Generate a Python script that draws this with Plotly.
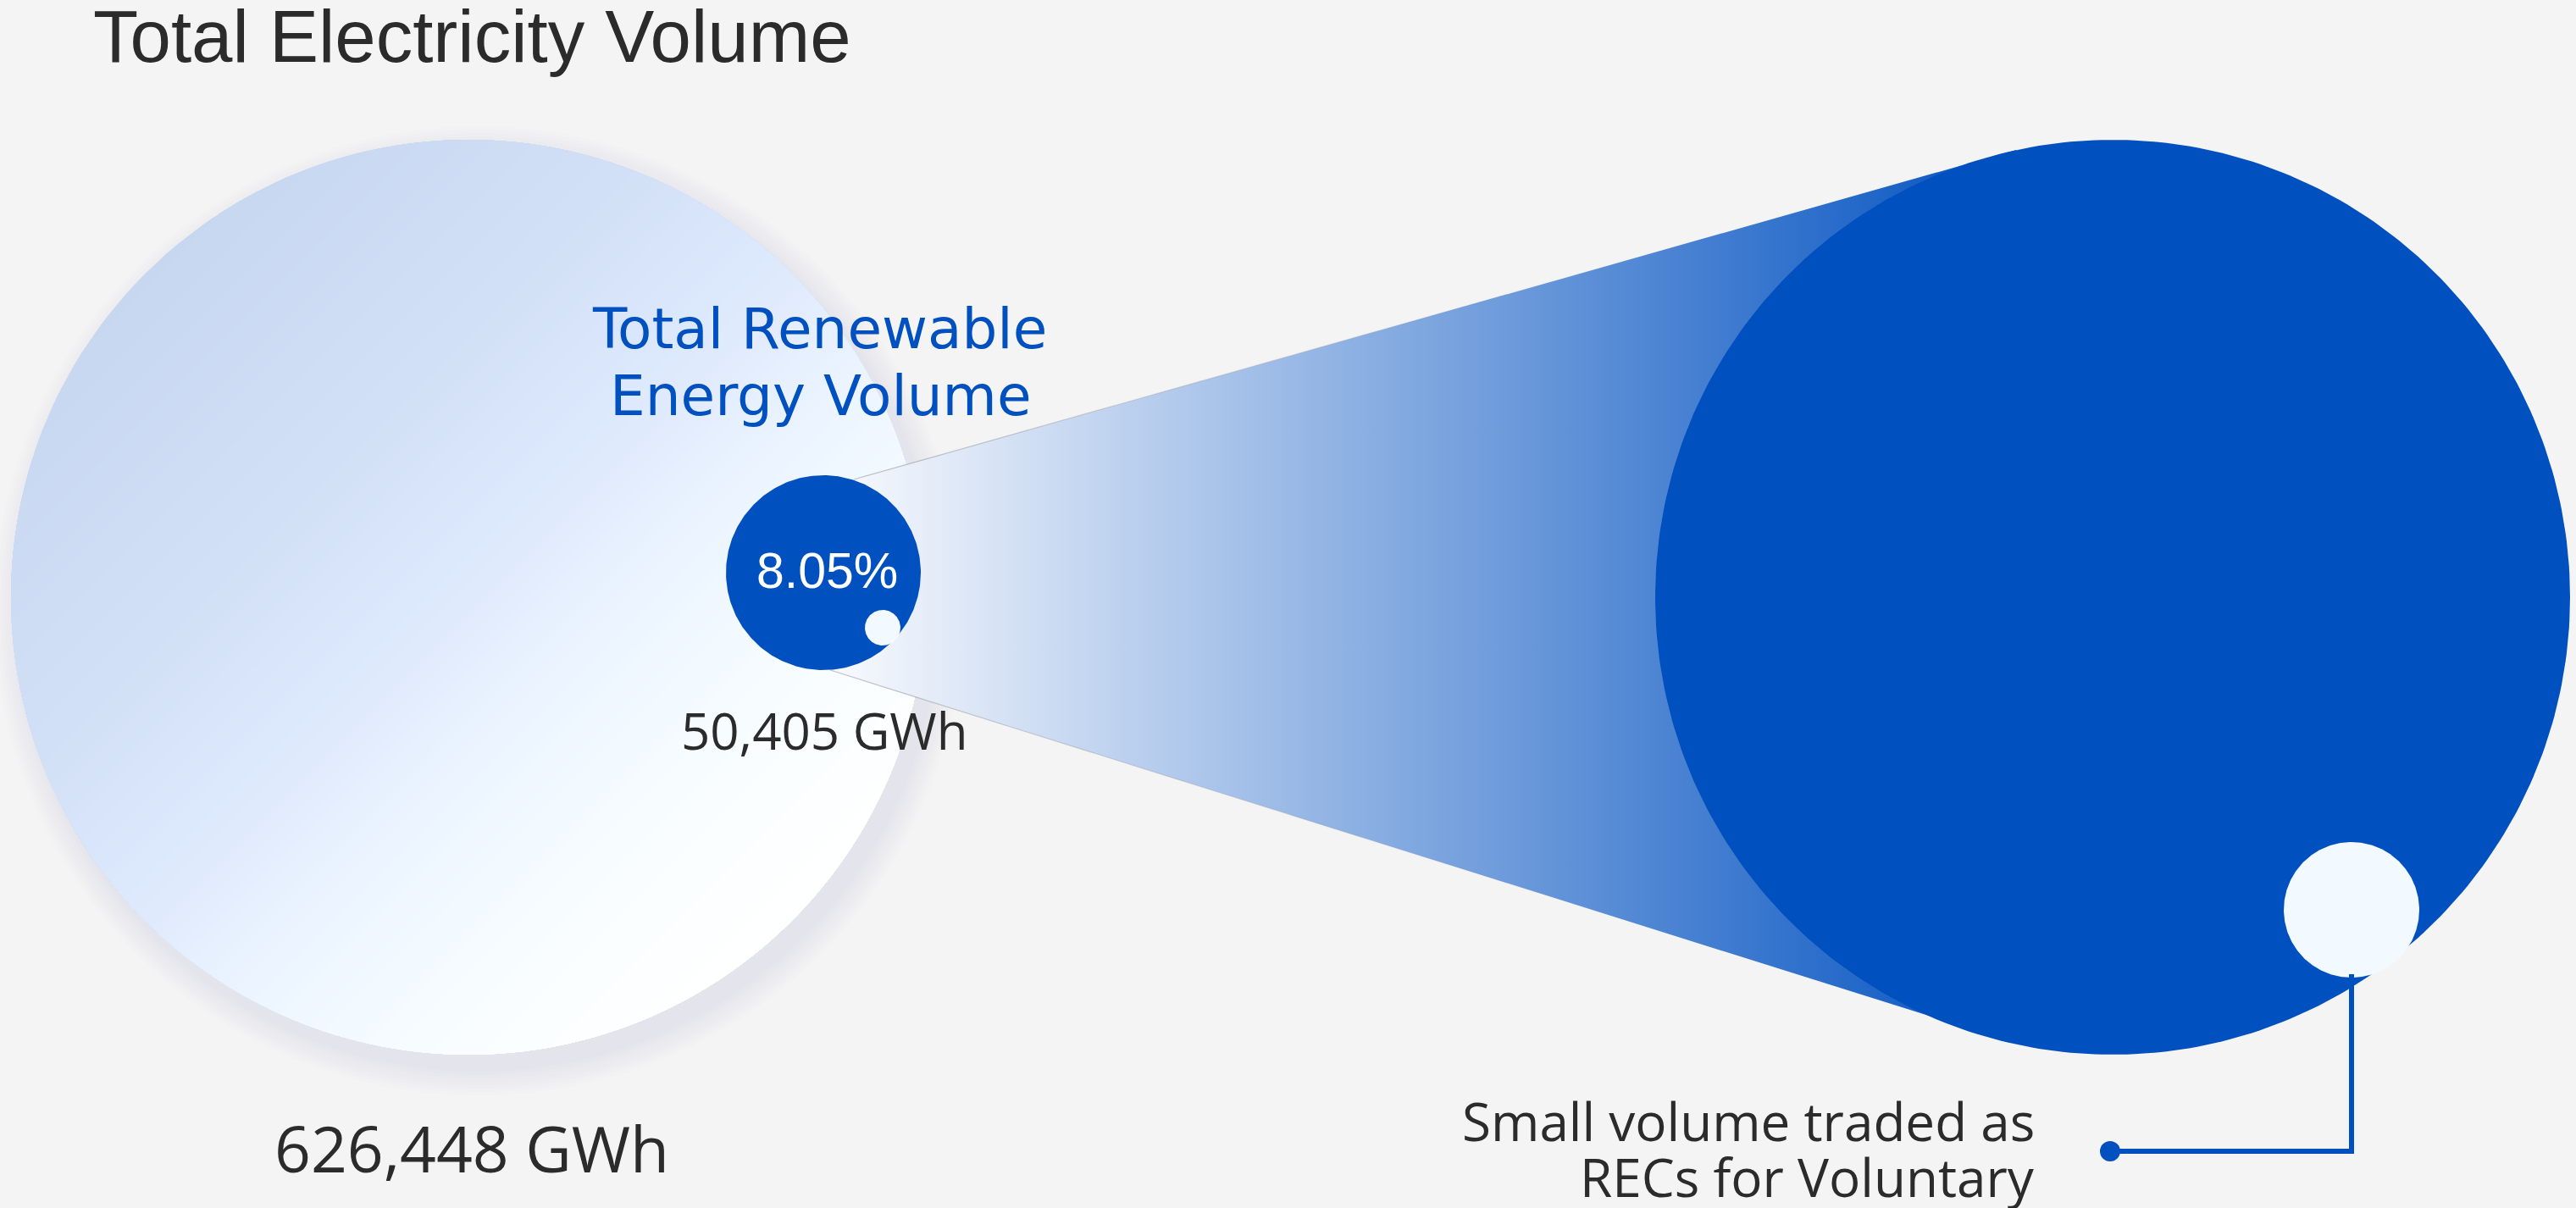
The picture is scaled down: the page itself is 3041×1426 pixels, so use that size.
import numpy as np
import plotly.graph_objects as go

# ---------------- data ----------------
volume_names = ["Total Electricity Volume", "Total Renewable Energy Volume"]
volume_gwh = [626448, 50405]
renewable_label_lines = ["Total Renewable", "Energy Volume"]
callout_lines = ["Small volume traded as", "RECs for Voluntary"]

share_pct = volume_gwh[1] / volume_gwh[0] * 100.0  # -> 8.05 %

# ---------------- layout constants ----------------
W, H = 3041, 1426
BG = "#f4f4f4"
BLUE = "#0050c0"
DOT = "#f2faff"
TXT = "#2b2b2b"

BIG_L = (553, 705, 540)      # light circle (total)
SMALL = (972, 676, 115)      # small blue circle (renewable)
SMALL_DOT = (1042, 741, 21)
BIG_B = (2494, 705, 540)     # zoomed renewable circle
BIG_DOT = (2776, 1074, 80)
WEDGE_X = [1008, 2380, 2372, 980]
WEDGE_Y = [566, 177, 1229, 791]


def circ(cx, cy, r, n=360):
    th = np.linspace(0, 2 * np.pi, n)
    return cx + r * np.cos(th), cy + r * np.sin(th)


fig = go.Figure()


def add_poly(x, y, color, **kw):
    fig.add_trace(go.Scatter(x=list(x), y=list(y), mode="lines", fill="toself",
                             fillcolor=color, line=dict(width=0, color=color),
                             hoverinfo="skip", showlegend=False, **kw))


cx, cy, r = BIG_L
# soft halo (top-left) and shadow (bottom-right)
for k in range(24, 0, -3):
    x, y = circ(cx - 5, cy - 7, r + k)
    add_poly(x, y, "rgba(255,255,255,0.05)")
for k in range(32, 0, -4):
    x, y = circ(cx + 12, cy + 16, r + k)
    add_poly(x, y, "rgba(190,198,222,0.03)")

# light circle with diagonal gradient (drawn as overlapping segments)
stops_t = np.array([-1.0, -0.37, 0.0, 0.28, 0.65, 1.0]) * r
stops_c = np.array([[199, 215, 240], [211, 225, 247], [223, 234, 253],
                    [236, 245, 255], [248, 253, 255], [255, 255, 255]])
d = np.array([1, 1]) / np.sqrt(2)
p = np.array([-1, 1]) / np.sqrt(2)
N = 90
ts = np.linspace(-r, r, N, endpoint=False)
step = 2 * r / N
for t in ts:
    a = np.arccos(np.clip(t / r, -1, 1))
    th = np.linspace(-a, a, 200)
    x = cx + r * (np.cos(th) * d[0] + np.sin(th) * p[0])
    y = cy + r * (np.cos(th) * d[1] + np.sin(th) * p[1])
    tm = t + step / 2
    col = [int(round(np.interp(tm, stops_t, stops_c[:, i]))) for i in range(3)]
    add_poly(x, y, "rgb(%d,%d,%d)" % tuple(col))

# wedge with horizontal gradient
fig.add_trace(go.Scatter(
    x=WEDGE_X + [WEDGE_X[0]], y=WEDGE_Y + [WEDGE_Y[0]], mode="lines", fill="toself",
    fillgradient=dict(type="horizontal", colorscale=[[0, "#f4f7fc"], [1, BLUE]],
                      start=1010, stop=2400),
    line=dict(width=0), hoverinfo="skip", showlegend=False))
# faint edge lines, fading out towards the big circle
n_seg = 8
for (x0, y0), (x1, y1) in [((WEDGE_X[0], WEDGE_Y[0]), (WEDGE_X[1], WEDGE_Y[1])),
                           ((WEDGE_X[3], WEDGE_Y[3]), (WEDGE_X[2], WEDGE_Y[2]))]:
    for i in range(n_seg):
        f0, f1 = 0.6 * i / n_seg, 0.6 * (i + 1) / n_seg
        alpha = 0.5 * (1 - i / n_seg)
        fig.add_trace(go.Scatter(
            x=[x0 + f0 * (x1 - x0), x0 + f1 * (x1 - x0)],
            y=[y0 + f0 * (y1 - y0), y0 + f1 * (y1 - y0)],
            mode="lines", line=dict(width=1.2, color="rgba(140,140,150,%.3f)" % alpha),
            hoverinfo="skip", showlegend=False))

# circles
for (ccx, ccy, rr), col in [(SMALL, BLUE), (SMALL_DOT, DOT), (BIG_B, BLUE), (BIG_DOT, DOT)]:
    x, y = circ(ccx, ccy, rr)
    add_poly(x, y, col)

# leader line
fig.add_trace(go.Scatter(x=[2776, 2776, 2491], y=[1150, 1359, 1359], mode="lines",
                         line=dict(width=6, color=BLUE), hoverinfo="skip", showlegend=False))
fig.add_trace(go.Scatter(x=[2491], y=[1359], mode="markers",
                         marker=dict(size=24, color=BLUE, line=dict(width=0)),
                         hoverinfo="skip", showlegend=False))


def ann(text, x, y, size, color, family, xanchor="center"):
    fig.add_annotation(x=x, y=y, xref="x", yref="y", text=text, showarrow=False,
                       xanchor=xanchor, yanchor="middle",
                       font=dict(size=size, color=color, family=family))


ann(volume_names[0], 108, 42, 87, TXT, "Liberation Sans, Arial", xanchor="left")
ann(renewable_label_lines[0], 967, 388, 66, BLUE, "DejaVu Sans, Verdana")
ann(renewable_label_lines[1], 969, 467, 66, BLUE, "DejaVu Sans, Verdana")
ann("%.2f%%" % share_pct, 976, 674, 59, "#ffffff", "Liberation Sans, Arial")
ann("{:,} GWh".format(volume_gwh[1]), 973, 862, 60, TXT, "Open Sans")
ann("{:,} GWh".format(volume_gwh[0]), 557, 1355, 75, TXT, "Open Sans")
ann(callout_lines[0], 2404, 1323, 62, TXT, "Open Sans", xanchor="right")
ann(callout_lines[1], 2404, 1389, 62, TXT, "Open Sans", xanchor="right")

fig.update_layout(
    width=W, height=H, margin=dict(l=0, r=0, t=0, b=0),
    paper_bgcolor=BG, plot_bgcolor=BG, showlegend=False,
    xaxis=dict(visible=False, range=[0, W], fixedrange=True),
    yaxis=dict(visible=False, range=[H, 0], fixedrange=True),
    hovermode=False,
)
fig.write_html("out.html")
